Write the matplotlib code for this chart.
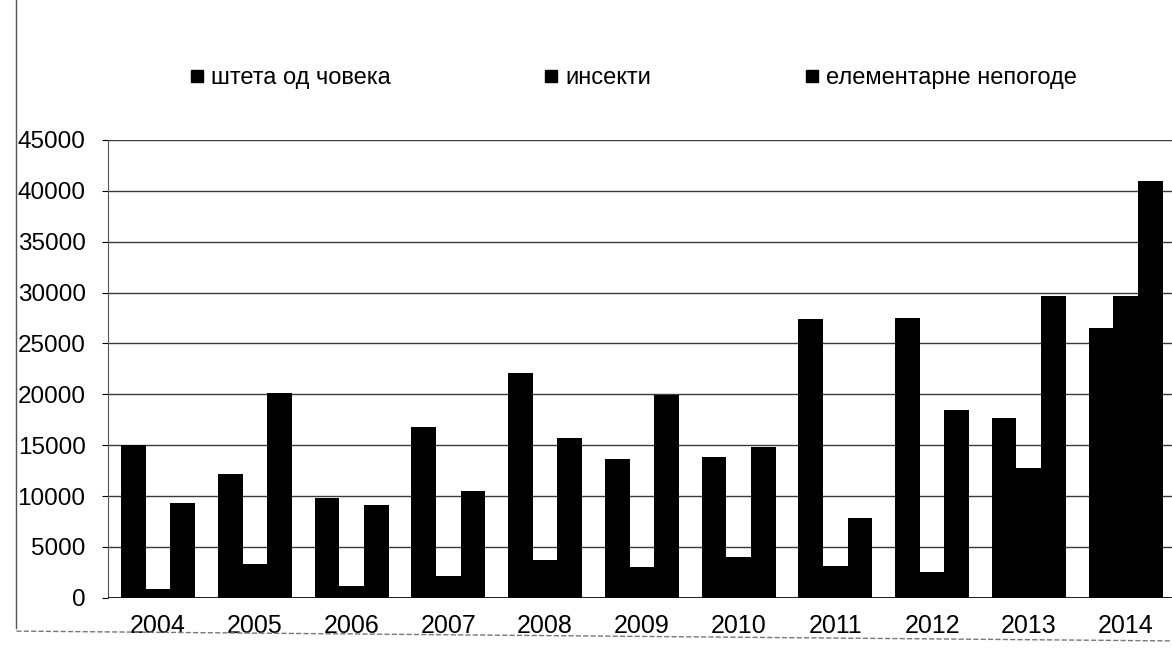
import numpy as np
import matplotlib.pyplot as plt
from matplotlib.lines import Line2D

plt.rcParams['font.family'] = ['Liberation Sans', 'DejaVu Sans']

# podaci
years = ['2004', '2005', '2006', '2007', '2008', '2009', '2010', '2011', '2012', '2013', '2014']
steta_covek = [15000, 12200, 9800, 16800, 22100, 13600, 13800, 27400, 27500, 17700, 26500]
insekti = [900, 3300, 1200, 2100, 3700, 3000, 4000, 3100, 2500, 12800, 29700]
nepogode = [9300, 20100, 9100, 10500, 15700, 19900, 14800, 7800, 18500, 29700, 41000]
labels = ['штета од човека', 'инсекти', 'елементарне непогоде']
yticks = [0, 5000, 10000, 15000, 20000, 25000, 30000, 35000, 40000, 45000]

fig = plt.figure(figsize=(11.72, 6.54), dpi=100)
ax = fig.add_axes([0.092, 0.086, 0.908, 0.70])

x = np.arange(len(years))
w = 0.255
ax.bar(x - w, steta_covek, w, color='black', label=labels[0], zorder=3)
ax.bar(x, insekti, w, color='black', label=labels[1], zorder=3)
ax.bar(x + w, nepogode, w, color='black', label=labels[2], zorder=3)

ax.set_ylim(0, 45000)
ax.set_xlim(-0.52, 10.48)
ax.set_yticks(yticks)
ax.set_yticklabels([str(v) for v in yticks], fontsize=17.5)
ax.set_xticks(x)
ax.set_xticklabels(years, fontsize=18)
ax.tick_params(axis='x', length=0, pad=12)
ax.tick_params(axis='y', length=4, pad=12)
ax.yaxis.grid(True, color='#3a3a3a', linewidth=1.0, zorder=0)
for s in ['top', 'right', 'bottom']:
    ax.spines[s].set_visible(False)
ax.spines['left'].set_color('#555555')
ax.axhline(0, color='black', linewidth=1.2, zorder=4)

# legenda
handles = [Line2D([], [], marker='s', color='black', linestyle='', markersize=9) for _ in labels]
fig.legend(handles, labels, loc='upper left', bbox_to_anchor=(0.153, 0.915), ncol=3,
           frameon=False, fontsize=17, handlelength=0.5, handletextpad=0.35,
           columnspacing=6.55, borderpad=0)

# okvir skena
fig.add_artist(Line2D([0.014, 0.014], [0.04, 1.0], color='#555555', linewidth=1.0))
fig.add_artist(Line2D([0.014, 1.0], [0.035, 0.02], color='#777777', linewidth=1.0, linestyle='--'))

fig.savefig('out.png', dpi=100)
